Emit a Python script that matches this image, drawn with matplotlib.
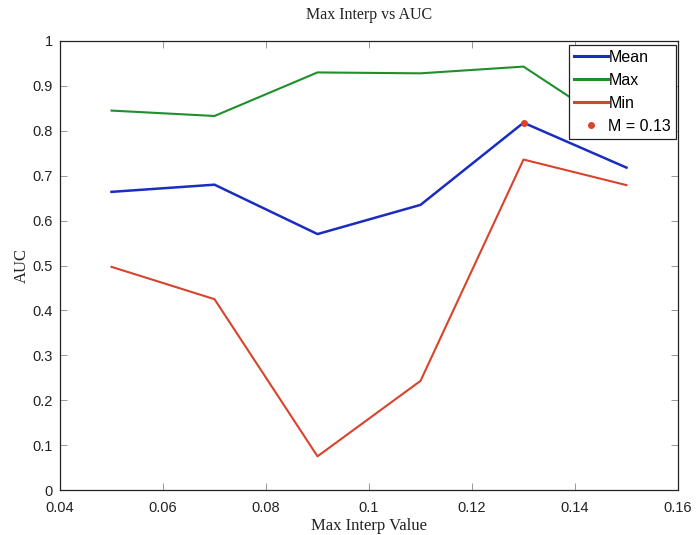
import matplotlib
matplotlib.use("Agg")
import matplotlib.pyplot as plt
from matplotlib.ticker import FuncFormatter

x_vals = [0.05, 0.07, 0.09, 0.11, 0.13, 0.15]
mean_vals = [0.664, 0.680, 0.570, 0.635, 0.818, 0.718]
max_vals = [0.845, 0.833, 0.930, 0.928, 0.943, 0.792]
min_vals = [0.497, 0.425, 0.075, 0.243, 0.736, 0.679]
marker_x = [0.13]
marker_y = [0.818]
x_ticks = [0.04, 0.06, 0.08, 0.10, 0.12, 0.14, 0.16]
y_ticks = [0, 0.1, 0.2, 0.3, 0.4, 0.5, 0.6, 0.7, 0.8, 0.9, 1.0]

fig = plt.figure(figsize=(6.99, 5.35), dpi=100)
ax = fig.add_axes([60/699, 45/535, 618/699, 449/535])

ax.plot(x_vals, mean_vals, color='#1a2dbf', lw=1.8, label='Mean')
ax.plot(x_vals, max_vals, color='#1f8f2a', lw=1.5, label='Max')
ax.plot(x_vals, min_vals, color='#d8432c', lw=1.5, label='Min')
ax.plot(marker_x, marker_y, 'o', color='#d8432c', ms=4, label='M = 0.13')

ax.set_xlim(0.04, 0.16)
ax.set_ylim(0, 1)
ax.set_xticks(x_ticks)
ax.set_yticks(y_ticks)
fmt = FuncFormatter(lambda v, p: ('%g' % round(v, 4)))
ax.xaxis.set_major_formatter(fmt)
ax.yaxis.set_major_formatter(fmt)
ax.tick_params(direction='in', length=5, width=0.6, top=True, right=True,
               labelsize=10.5, colors='#888888', labelcolor='#222222')
ax.tick_params(axis='x', pad=8)
ax.tick_params(axis='y', pad=5)
for lab in ax.get_xticklabels() + ax.get_yticklabels():
    lab.set_family('Liberation Sans')
for s in ax.spines.values():
    s.set_linewidth(0.9)
    s.set_color('#222222')

ax.set_title('Max Interp vs AUC', family='Liberation Serif', fontsize=11.5, pad=16, color='#222222')
ax.set_xlabel('Max Interp Value', family='Liberation Serif', fontsize=12, labelpad=2, color='#222222')
ax.set_ylabel('AUC', family='Liberation Serif', fontsize=12, labelpad=2, color='#222222')

leg = ax.legend(loc='upper right', bbox_to_anchor=(0.9968, 0.991), borderaxespad=0,
                prop={'family': 'Liberation Sans', 'size': 11.5},
                frameon=True, fancybox=False, borderpad=0.3, labelspacing=0.5,
                handlelength=2.1, handletextpad=0.05,
                edgecolor='#222222', framealpha=1, numpoints=1)
leg.get_frame().set_linewidth(0.9)
for h in leg.get_lines()[:3]:
    h.set_linewidth(2.2)

fig.savefig('out.png', dpi=100)
